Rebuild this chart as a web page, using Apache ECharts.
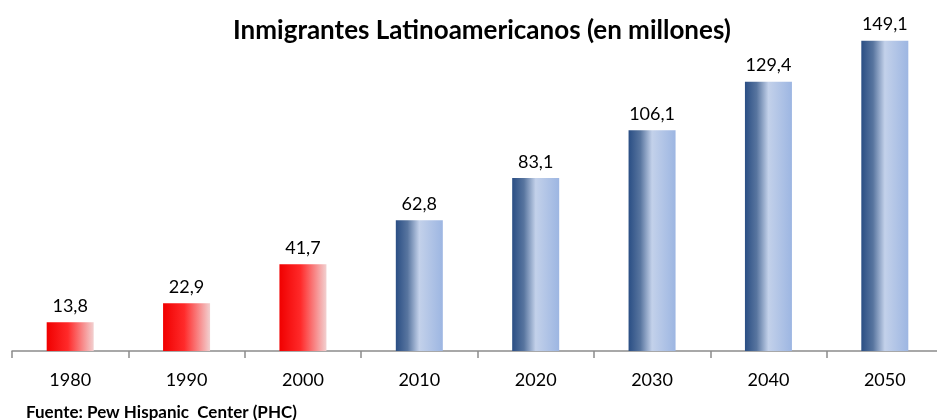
<!DOCTYPE html>
<html><head><meta charset="utf-8">
<script src="https://cdn.jsdelivr.net/npm/echarts@6/dist/echarts.min.js"></script>
<style>html,body{margin:0;padding:0;background:#fff}#c{width:937px;height:420px}</style>
</head><body><div id="c"></div>
<script>
const categories = ['1980','1990','2000','2010','2020','2030','2040','2050'];
const values = [13.8, 22.9, 41.7, 62.8, 83.1, 106.1, 129.4, 149.1];
const historicalCount = 3;

const redGrad = new echarts.graphic.LinearGradient(0,0,1,0,[
  {offset:0,color:'#f00000'},{offset:0.45,color:'#ff2a2a'},{offset:1,color:'#f2d0d0'}]);
const blueGrad = new echarts.graphic.LinearGradient(0,0,1,0,[
  {offset:0,color:'#2a4e84'},{offset:0.25,color:'#58759f'},{offset:0.5,color:'#c3d1ea'},{offset:1,color:'#9db6e2'}]);

const chart = echarts.init(document.getElementById('c'));
chart.setOption({
  animation:false,
  title:[{text:'Inmigrantes Latinoamericanos (en millones)',left:477,top:13,textAlign:'center',
    textStyle:{fontFamily:'Lato',fontWeight:'bold',fontSize:26,color:'#000'}},
    {text:'Fuente: Pew Hispanic  Center (PHC)',left:21,top:399,
    textStyle:{fontFamily:'Lato',fontWeight:'bold',fontSize:17,color:'#000'}}],
  grid:{left:12,width:931,top:18,bottom:69,outerBoundsMode:'none',containLabel:false},
  xAxis:{type:'category',data:categories,
    axisLine:{lineStyle:{color:'#8c8c8c',width:1.5}},
    axisTick:{show:true,length:7,lineStyle:{color:'#8c8c8c',width:1.5}},
    axisLabel:{fontFamily:'Lato',fontSize:18,color:'#000',margin:20}},
  yAxis:{type:'value',min:0,max:160,show:false,splitLine:{show:false}},
  series:[{type:'bar',barWidth:47,
    data:values.map((v,i)=>({value:v,itemStyle:{color:i<historicalCount?redGrad:blueGrad}})),
    label:{show:true,position:'top',distance:7,fontFamily:'Lato',fontSize:18,color:'#000',
      formatter:p=>p.value.toFixed(1).replace('.',',')}}]
});
</script></body></html>
